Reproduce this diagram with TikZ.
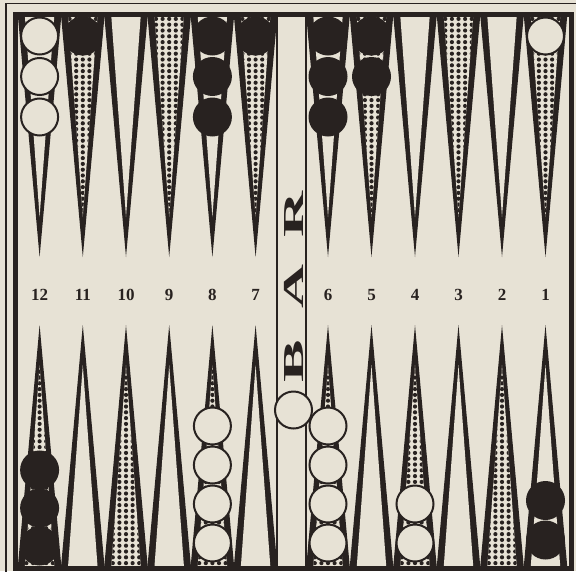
\documentclass[tikz,border=0pt]{standalone}
\usepackage{fontspec}
\setmainfont{Liberation Serif}
\usepackage{graphicx}
\usepackage{xcolor}
\usetikzlibrary{positioning,calc}

\definecolor{paper}{RGB}{231,226,213}
\definecolor{ink}{RGB}{40,34,32}

% stippled inside of a point: centre x, base y, apex y, row step
\newcommand\dotfield[4]{%
  \begin{scope}
    \clip (#1-14.7,#2) -- (#1,#3) -- (#1+14.7,#2) -- cycle;
    \foreach \i in {-2,...,2}
      \foreach \j in {0,...,35}
        \fill[ink] (#1+6.6*\i,#2+#4*\j+#4*0.5) circle[radius=2.1pt];
  \end{scope}}

\begin{document}
\begin{tikzpicture}[
    x=1pt, y=-1pt,
    whiteman/.style={circle, draw=ink, line width=2pt, fill=paper, minimum size=37pt, inner sep=0pt},
    blackman/.style={circle, fill=ink, minimum size=39pt, inner sep=0pt},
    pointnum/.style={font=\bfseries\fontsize{17}{17}\selectfont, text=ink},
    barletter/.style={rotate=90, font=\bfseries\fontsize{29}{29}\selectfont, text=ink}
]
    \useasboundingbox (0,0) rectangle (576,571);
    \fill[paper] (0,0) rectangle (576,571);

    % points: top row stippled on odd numbers, bottom row on even ones
    \foreach \n/\x in {12/39.6,11/82.8,10/126,9/169.2,8/212.4,7/255.6,6/328,5/371.5,4/415,3/458.5,2/502,1/545.5} {
        \pgfmathtruncatemacro\odd{mod(\n,2)}
        \fill[ink] (\x-21.7,16) -- (\x,257) -- (\x+21.7,16) -- cycle;
        \fill[paper] (\x-14.7,16) -- (\x,217) -- (\x+14.7,16) -- cycle;
        \fill[ink] (\x-21.7,566) -- (\x,325) -- (\x+21.7,566) -- cycle;
        \fill[paper] (\x-14.7,566) -- (\x,365) -- (\x+14.7,566) -- cycle;
        \ifnum\odd=1 \dotfield{\x}{16}{217}{5.8}\else \dotfield{\x}{566}{365}{-5.8}\fi
        \node[pointnum] (num\n) at (\x,295) {\n};
    }

    % frame and bar
    \draw[ink, line width=1.5pt] (6,3.5) rectangle (600,600);
    \draw[ink, line width=5pt] (15.5,14) rectangle (571,568);
    \draw[ink, line width=2pt] (277,16) -- (277,566);
    \draw[ink, line width=2pt] (306,16) -- (306,566);
    \node[barletter] (barR) at (294,214) {\scalebox{2.2}[1]{R}};
    \node[barletter] (barA) at (294,287) {\scalebox{2.1}[1]{A}};
    \node[barletter] (barB) at (294,361) {\scalebox{2.2}[1]{B}};

    % men on the top points
    \foreach \k in {0,1,2} {
        \node[whiteman] (top12-\k) at (39.6,36+40.5*\k) {};
        \node[blackman] (top8-\k) at (212.4,36+40.5*\k) {};
        \node[blackman] (top6-\k) at (328,36+40.5*\k) {};
    }
    \node[blackman] (top11) at (82.8,36) {};
    \node[blackman] (top7) at (255.6,36) {};
    \foreach \k in {0,1} \node[blackman] (top5-\k) at (371.5,36+40.5*\k) {};
    \node[whiteman] (top1) at (545.5,36) {};

    % men on the bottom points
    \foreach \k in {0,1,2} \node[blackman] (bot12-\k) at (39.6,546-38*\k) {};
    \foreach \k in {0,...,3} {
        \node[whiteman] (bot8-\k) at (212.4,543-39*\k) {};
        \node[whiteman] (bot6-\k) at (328,543-39*\k) {};
    }
    \foreach \k in {0,1} {
        \node[whiteman] (bot4-\k) at (415,543-39*\k) {};
        \node[blackman] (bot1-\k) at (545.5,540-39.5*\k) {};
    }
    \node[whiteman] (onbar) at (293.5,410) {};
\end{tikzpicture}
\end{document}
